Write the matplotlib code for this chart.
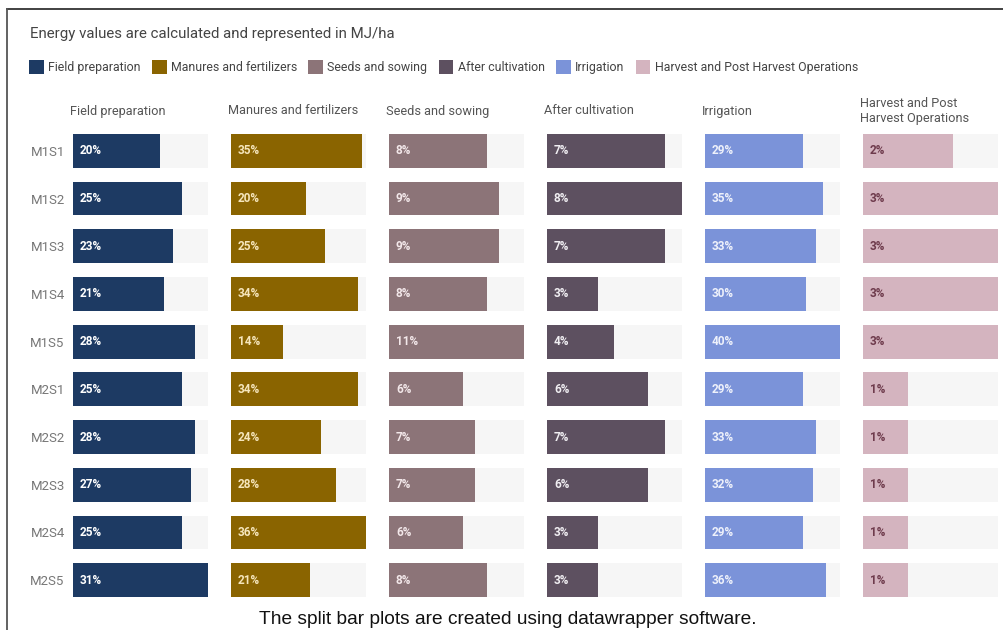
import matplotlib.pyplot as plt
from matplotlib.lines import Line2D
from matplotlib.patches import Patch

# Share of energy (%) per input stage, rows M1S1 .. M2S5
treatments = ["M1S1", "M1S2", "M1S3", "M1S4", "M1S5",
              "M2S1", "M2S2", "M2S3", "M2S4", "M2S5"]
stages = ["Field preparation", "Manures and fertilizers", "Seeds and sowing",
          "After cultivation", "Irrigation", "Harvest and Post Harvest Operations"]
headers = ["Field preparation", "Manures and fertilizers", "Seeds and sowing",
           "After cultivation", "Irrigation", "Harvest and Post\nHarvest Operations"]

field_prep = [20, 25, 23, 21, 28, 25, 28, 27, 25, 31]
manures = [35, 20, 25, 34, 14, 34, 24, 28, 36, 21]
seeds = [8, 9, 9, 8, 11, 6, 7, 7, 6, 8]
after_cult = [7, 8, 7, 3, 4, 6, 7, 6, 3, 3]
irrigation = [29, 35, 33, 30, 40, 29, 33, 32, 29, 36]
harvest = [2, 3, 3, 3, 3, 1, 1, 1, 1, 1]

series = [field_prep, manures, seeds, after_cult, irrigation, harvest]
colors = ["#1d3a63", "#8a6400", "#8c7478", "#5d5060", "#7b93d9", "#d4b4bf"]
label_colors = ["#ffffff", "#f6e6bc", "#f3e8ea", "#f0eef2", "#eef1fb", "#6e3b4c"]

FONT = ["Roboto", "DejaVu Sans"]

W, H = 1004, 630
fig = plt.figure(figsize=(W / 100, H / 100), dpi=100)


def fx(px):
    return px / W


def fy(py):
    return 1 - py / H


# outer frame (top and left edges only)
fig.add_artist(Line2D([fx(7), 1], [fy(9), fy(9)], color="#333333", lw=1.3))
fig.add_artist(Line2D([fx(7), fx(7)], [fy(9), 0], color="#555555", lw=1.3))

fig.text(fx(30), fy(34), "Energy values are calculated and represented in MJ/ha",
         family=FONT, fontsize=10.8, color="#444444", va="center")

handles = [Patch(facecolor=c, edgecolor="none") for c in colors]
fig.legend(handles, stages, loc="center left", bbox_to_anchor=(fx(29), fy(67)),
           ncol=6, frameon=False, borderaxespad=0, borderpad=0,
           handlelength=1.2, handleheight=1.3, handletextpad=0.35,
           columnspacing=0.9, prop={"family": FONT, "size": 8.9},
           labelcolor="#444444")

# per-column bar panels
col_left = [73, 231, 389, 547, 705, 863]
col_w = 135
top_px, bot_px = 127, 604
rows = range(len(treatments))

for i, vals in enumerate(series):
    ax = fig.add_axes([fx(col_left[i]), fy(bot_px), fx(col_w), (bot_px - top_px) / H])
    vmax = max(vals)
    ax.barh(rows, [vmax] * len(vals), height=0.71, color="#f6f6f6", zorder=1)
    ax.barh(rows, vals, height=0.71, color=colors[i], zorder=2)
    for r, v in zip(rows, vals):
        ax.annotate(f"{v}%", (0, r), xytext=(5, 0), textcoords="offset points",
                    va="center", ha="left", family=FONT, fontsize=8.5,
                    fontweight="bold", color=label_colors[i], zorder=3)
    ax.set_xlim(0, vmax)
    ax.set_ylim(len(vals) - 0.5, -0.5)
    ax.set_xticks([])
    for s in ax.spines.values():
        s.set_visible(False)
    if i == 0:
        ax.set_yticks(list(rows), treatments)
        ax.tick_params(axis="y", length=0, pad=6, labelcolor="#777777")
        for t in ax.get_yticklabels():
            t.set_family(FONT)
            t.set_fontsize(9.5)
    else:
        ax.set_yticks([])
    ax.annotate(headers[i], (0, 1), xycoords="axes fraction", xytext=(-3, 16),
                textcoords="offset pixels", ha="left", va="center",
                family=FONT, fontsize=9.2, color="#555555", linespacing=1.25)

fig.text(fx(508), fy(619), "The split bar plots are created using datawrapper software.",
         family=["Liberation Sans", "DejaVu Sans"], fontsize=13.8, color="#111111",
         ha="center", va="center")

fig.savefig("out.png", dpi=100)
